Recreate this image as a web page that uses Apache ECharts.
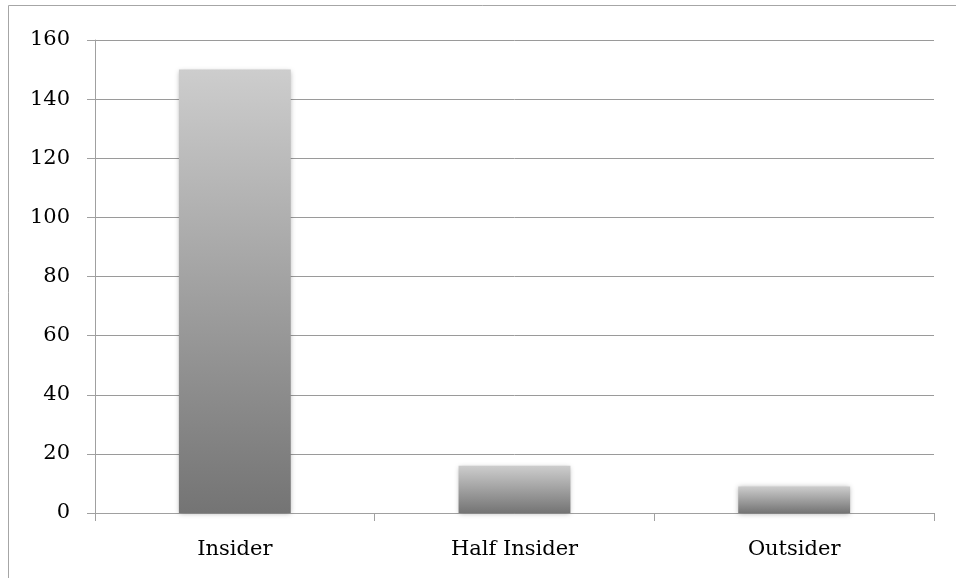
<!DOCTYPE html>
<html>
<head>
<meta charset="utf-8">
<script src="https://cdn.jsdelivr.net/npm/echarts@6/dist/echarts.min.js"></script>
<style>html,body{margin:0;padding:0;background:#fff;}#c{width:956px;height:578px;}</style>
</head>
<body>
<div id="c"></div>
<script>
var categories = ['Insider', 'Half Insider', 'Outsider'];
var values = [150, 16, 9];
var yTicks = { min: 0, max: 160, interval: 20 };

var chart = echarts.init(document.getElementById('c'), null, { renderer: 'canvas' });
var font = 'DejaVu Serif';
chart.setOption({
  animation: false,
  backgroundColor: '#fff',
  graphic: [{
    type: 'rect', shape: { x: 8.5, y: 5.5, width: 960, height: 600 },
    style: { fill: 'none', stroke: '#a6a6a6', lineWidth: 1 }, silent: true
  }],
  grid: { left: 95, right: 22, top: 40, bottom: 65, containLabel: false },
  xAxis: {
    type: 'category', data: categories,
    axisLine: { lineStyle: { color: '#a0a0a0', width: 1 } },
    axisTick: { show: true, length: 8, lineStyle: { color: '#a0a0a0' } },
    axisLabel: { color: '#000', fontFamily: font, fontSize: 21, margin: 26 }
  },
  yAxis: {
    type: 'value', min: yTicks.min, max: yTicks.max, interval: yTicks.interval,
    axisLine: { show: true, lineStyle: { color: '#a0a0a0', width: 1 } },
    axisTick: { show: true, length: 8, lineStyle: { color: '#a0a0a0' } },
    splitLine: { lineStyle: { color: '#9a9a9a', width: 1 } },
    axisLabel: { color: '#000', fontFamily: font, fontSize: 21, margin: 25 }
  },
  series: [{
    type: 'bar', data: values, barWidth: '40%',
    itemStyle: {
      color: new echarts.graphic.LinearGradient(0, 0, 0, 1, [
        { offset: 0, color: '#cdcdcd' },
        { offset: 1, color: '#747474' }
      ]),
      shadowBlur: 5, shadowColor: 'rgba(0,0,0,0.3)', shadowOffsetY: 1
    }
  }]
});
</script>
</body>
</html>
